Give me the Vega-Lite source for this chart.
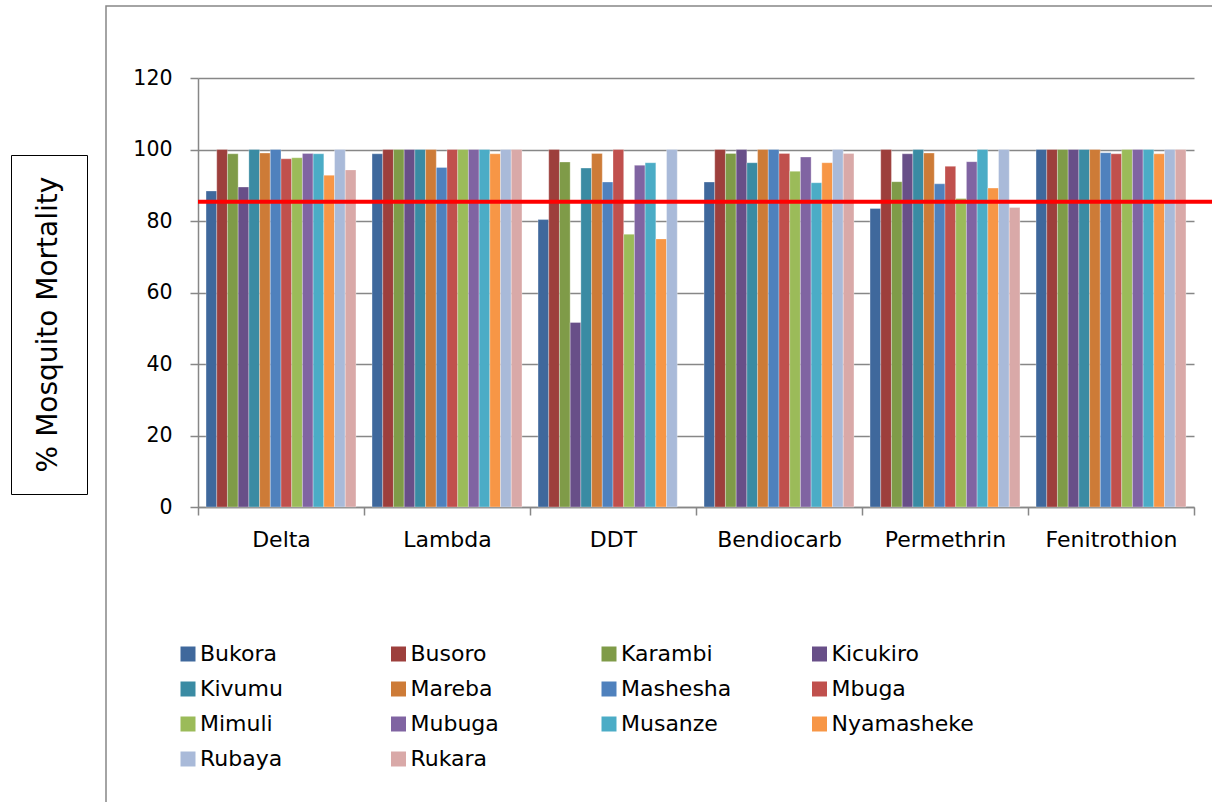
{
  "$schema": "https://vega.github.io/schema/vega-lite/v6.json",
  "background": "white",
  "padding": {"left": 10, "top": 5, "right": 0, "bottom": 0},
  "config": {
    "font": "DejaVu Sans",
    "view": {"stroke": null}
  },
  "datasets": {
    "mortality": [
      {"insecticide": "Delta", "site": "Bukora", "mortality": 88.4},
      {"insecticide": "Delta", "site": "Busoro", "mortality": 100},
      {"insecticide": "Delta", "site": "Karambi", "mortality": 98.8},
      {"insecticide": "Delta", "site": "Kicukiro", "mortality": 89.5},
      {"insecticide": "Delta", "site": "Kivumu", "mortality": 100},
      {"insecticide": "Delta", "site": "Mareba", "mortality": 99},
      {"insecticide": "Delta", "site": "Mashesha", "mortality": 100},
      {"insecticide": "Delta", "site": "Mbuga", "mortality": 97.4},
      {"insecticide": "Delta", "site": "Mimuli", "mortality": 97.7},
      {"insecticide": "Delta", "site": "Mubuga", "mortality": 98.9},
      {"insecticide": "Delta", "site": "Musanze", "mortality": 98.8},
      {"insecticide": "Delta", "site": "Nyamasheke", "mortality": 92.8},
      {"insecticide": "Delta", "site": "Rubaya", "mortality": 100},
      {"insecticide": "Delta", "site": "Rukara", "mortality": 94.3},
      {"insecticide": "Lambda", "site": "Bukora", "mortality": 98.8},
      {"insecticide": "Lambda", "site": "Busoro", "mortality": 100},
      {"insecticide": "Lambda", "site": "Karambi", "mortality": 100},
      {"insecticide": "Lambda", "site": "Kicukiro", "mortality": 100},
      {"insecticide": "Lambda", "site": "Kivumu", "mortality": 100},
      {"insecticide": "Lambda", "site": "Mareba", "mortality": 100},
      {"insecticide": "Lambda", "site": "Mashesha", "mortality": 95.0},
      {"insecticide": "Lambda", "site": "Mbuga", "mortality": 100},
      {"insecticide": "Lambda", "site": "Mimuli", "mortality": 100},
      {"insecticide": "Lambda", "site": "Mubuga", "mortality": 100},
      {"insecticide": "Lambda", "site": "Musanze", "mortality": 100},
      {"insecticide": "Lambda", "site": "Nyamasheke", "mortality": 98.8},
      {"insecticide": "Lambda", "site": "Rubaya", "mortality": 100},
      {"insecticide": "Lambda", "site": "Rukara", "mortality": 100},
      {"insecticide": "DDT", "site": "Bukora", "mortality": 80.4},
      {"insecticide": "DDT", "site": "Busoro", "mortality": 100},
      {"insecticide": "DDT", "site": "Karambi", "mortality": 96.5},
      {"insecticide": "DDT", "site": "Kicukiro", "mortality": 51.6},
      {"insecticide": "DDT", "site": "Kivumu", "mortality": 94.8},
      {"insecticide": "DDT", "site": "Mareba", "mortality": 98.9},
      {"insecticide": "DDT", "site": "Mashesha", "mortality": 90.9},
      {"insecticide": "DDT", "site": "Mbuga", "mortality": 100},
      {"insecticide": "DDT", "site": "Mimuli", "mortality": 76.3},
      {"insecticide": "DDT", "site": "Mubuga", "mortality": 95.6},
      {"insecticide": "DDT", "site": "Musanze", "mortality": 96.3},
      {"insecticide": "DDT", "site": "Nyamasheke", "mortality": 75.0},
      {"insecticide": "DDT", "site": "Rubaya", "mortality": 100},
      {"insecticide": "Bendiocarb", "site": "Bukora", "mortality": 90.9},
      {"insecticide": "Bendiocarb", "site": "Busoro", "mortality": 100},
      {"insecticide": "Bendiocarb", "site": "Karambi", "mortality": 98.9},
      {"insecticide": "Bendiocarb", "site": "Kicukiro", "mortality": 100},
      {"insecticide": "Bendiocarb", "site": "Kivumu", "mortality": 96.3},
      {"insecticide": "Bendiocarb", "site": "Mareba", "mortality": 100},
      {"insecticide": "Bendiocarb", "site": "Mashesha", "mortality": 100},
      {"insecticide": "Bendiocarb", "site": "Mbuga", "mortality": 98.9},
      {"insecticide": "Bendiocarb", "site": "Mimuli", "mortality": 93.9},
      {"insecticide": "Bendiocarb", "site": "Mubuga", "mortality": 97.9},
      {"insecticide": "Bendiocarb", "site": "Musanze", "mortality": 90.7},
      {"insecticide": "Bendiocarb", "site": "Nyamasheke", "mortality": 96.3},
      {"insecticide": "Bendiocarb", "site": "Rubaya", "mortality": 100},
      {"insecticide": "Bendiocarb", "site": "Rukara", "mortality": 98.9},
      {"insecticide": "Permethrin", "site": "Bukora", "mortality": 83.5},
      {"insecticide": "Permethrin", "site": "Busoro", "mortality": 100},
      {"insecticide": "Permethrin", "site": "Karambi", "mortality": 91.0},
      {"insecticide": "Permethrin", "site": "Kicukiro", "mortality": 98.8},
      {"insecticide": "Permethrin", "site": "Kivumu", "mortality": 100},
      {"insecticide": "Permethrin", "site": "Mareba", "mortality": 99.0},
      {"insecticide": "Permethrin", "site": "Mashesha", "mortality": 90.4},
      {"insecticide": "Permethrin", "site": "Mbuga", "mortality": 95.3},
      {"insecticide": "Permethrin", "site": "Mimuli", "mortality": 86.3},
      {"insecticide": "Permethrin", "site": "Mubuga", "mortality": 96.6},
      {"insecticide": "Permethrin", "site": "Musanze", "mortality": 100},
      {"insecticide": "Permethrin", "site": "Nyamasheke", "mortality": 89.2},
      {"insecticide": "Permethrin", "site": "Rubaya", "mortality": 100},
      {"insecticide": "Permethrin", "site": "Rukara", "mortality": 83.8},
      {"insecticide": "Fenitrothion", "site": "Bukora", "mortality": 100},
      {"insecticide": "Fenitrothion", "site": "Busoro", "mortality": 100},
      {"insecticide": "Fenitrothion", "site": "Karambi", "mortality": 100},
      {"insecticide": "Fenitrothion", "site": "Kicukiro", "mortality": 100},
      {"insecticide": "Fenitrothion", "site": "Kivumu", "mortality": 100},
      {"insecticide": "Fenitrothion", "site": "Mareba", "mortality": 100},
      {"insecticide": "Fenitrothion", "site": "Mashesha", "mortality": 99.1},
      {"insecticide": "Fenitrothion", "site": "Mbuga", "mortality": 98.8},
      {"insecticide": "Fenitrothion", "site": "Mimuli", "mortality": 100},
      {"insecticide": "Fenitrothion", "site": "Mubuga", "mortality": 100},
      {"insecticide": "Fenitrothion", "site": "Musanze", "mortality": 100},
      {"insecticide": "Fenitrothion", "site": "Nyamasheke", "mortality": 98.8},
      {"insecticide": "Fenitrothion", "site": "Rubaya", "mortality": 100},
      {"insecticide": "Fenitrothion", "site": "Rukara", "mortality": 100}
    ]
  },
  "spacing": 17,
  "hconcat": [
    {
      "spacing": 0,
      "vconcat": [
        {
          "width": 76,
          "height": 148,
          "view": {"stroke": null},
          "data": {"values": []},
          "mark": "text"
        },
        {
          "width": 76,
          "height": 339,
          "view": {"stroke": "black", "strokeWidth": 1},
          "data": {"values": [{"label": "% Mosquito Mortality"}]},
          "mark": {"type": "text", "angle": 270, "fontSize": 28, "color": "black", "align": "center", "baseline": "middle"},
          "encoding": {"text": {"field": "label", "type": "nominal"}}
        }
      ]
    },
    {
      "width": 1107,
      "height": 797,
      "view": {"stroke": "#878787", "strokeWidth": 1.5},
      "layer": [
        {
          "data": {"name": "mortality"},
          "mark": {"type": "bar", "stroke": "white", "strokeWidth": 0.6, "strokeOpacity": 0.5},
          "encoding": {
            "x": {
              "field": "insecticide",
              "type": "nominal",
              "scale": {
                "domain": ["Delta", "Lambda", "DDT", "Bendiocarb", "Permethrin", "Fenitrothion"],
                "range": [92, 1088],
                "paddingInner": 0,
                "paddingOuter": 0
              },
              "axis": {
                "title": null,
                "orient": "bottom",
                "offset": -296,
                "tickBand": "extent",
                "tickSize": 8,
                "tickColor": "#878787",
                "tickWidth": 1.5,
                "domainColor": "#878787",
                "domainWidth": 1.5,
                "labelAngle": 0,
                "labelFontSize": 22,
                "labelColor": "black",
                "labelPadding": 14
              }
            },
            "xOffset": {
              "field": "site",
              "type": "nominal",
              "scale": {
                "domain": ["Bukora", "Busoro", "Karambi", "Kicukiro", "Kivumu", "Mareba", "Mashesha", "Mbuga", "Mimuli", "Mubuga", "Musanze", "Nyamasheke", "Rubaya", "Rukara"],
                "paddingInner": 0,
                "paddingOuter": 0.75
              }
            },
            "y": {
              "field": "mortality",
              "type": "quantitative",
              "scale": {"domain": [0, 120], "range": [501, 72], "nice": false},
              "axis": {
                "title": null,
                "offset": -92,
                "values": [0, 20, 40, 60, 80, 100, 120],
                "grid": true,
                "gridColor": "#878787",
                "gridWidth": 1.5,
                "tickSize": 8,
                "tickColor": "#878787",
                "tickWidth": 1.5,
                "domainColor": "#878787",
                "domainWidth": 1.5,
                "labelFontSize": 20.5,
                "labelColor": "black",
                "labelPadding": 18
              }
            },
            "color": {
              "field": "site",
              "type": "nominal",
              "scale": {
                "domain": ["Bukora", "Busoro", "Karambi", "Kicukiro", "Kivumu", "Mareba", "Mashesha", "Mbuga", "Mimuli", "Mubuga", "Musanze", "Nyamasheke", "Rubaya", "Rukara"],
                "range": ["#3F689C", "#9D3F3C", "#7F9B48", "#684F88", "#3A8BA3", "#CD7B37", "#4F81BD", "#C0504D", "#9BBB59", "#8064A2", "#4BACC6", "#F79646", "#A9BAD9", "#D9A9A8"]
              },
              "legend": {
                "title": null,
                "orient": "none",
                "direction": "horizontal",
                "legendX": 166,
                "legendY": 637,
                "columns": 4,
                "gridAlign": "all",
                "columnPadding": 44.5,
                "rowPadding": 13,
                "symbolType": "square",
                "symbolSize": 225,
                "symbolStrokeWidth": 0,
                "symbolOpacity": 1,
                "labelFontSize": 22,
                "labelColor": "black",
                "labelOffset": 1,
                "labelLimit": 300
              }
            }
          }
        },
        {
          "data": {"values": [{"cutoff": 85.4}]},
          "mark": {"type": "rule", "color": "#FF0000", "strokeWidth": 4},
          "encoding": {
            "y": {"field": "cutoff", "type": "quantitative", "axis": {"title": null}},
            "x": {"datum": "Delta", "bandPosition": 0},
            "x2": {"value": "width"}
          }
        }
      ]
    }
  ]
}
